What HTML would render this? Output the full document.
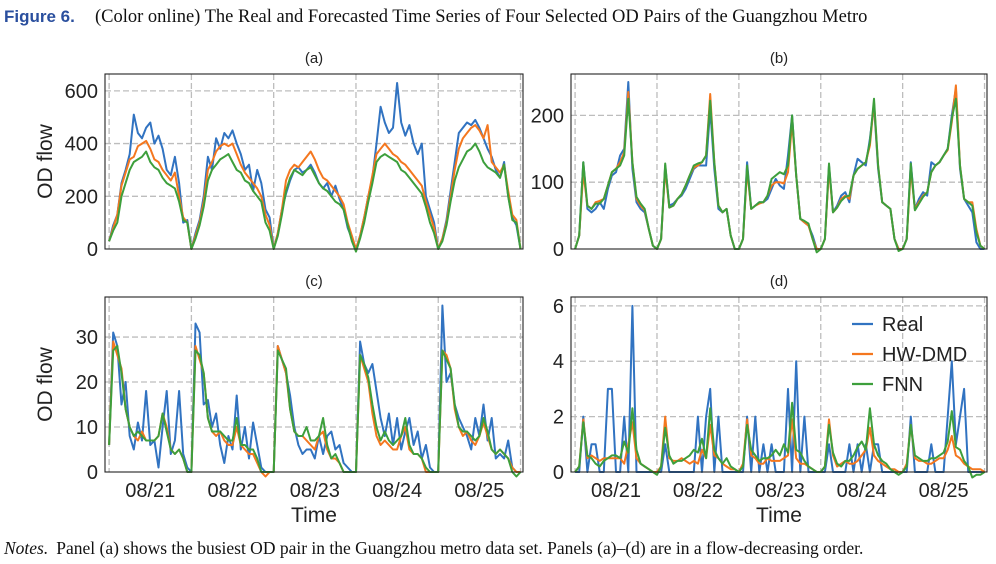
<!DOCTYPE html>
<html><head><meta charset="utf-8"><style>
body{margin:0;background:#fff;width:996px;height:564px;overflow:hidden}
svg{display:block}
</style></head><body>
<svg id="fig" width="996" height="564" viewBox="0 0 996 564" xmlns="http://www.w3.org/2000/svg">
<text x="4" y="22" font-family="Liberation Sans, sans-serif" font-weight="bold" font-size="17" fill="#2a4f9e">Figure 6.</text>
<text x="95" y="22" font-family="Liberation Serif, serif" font-size="18.5" fill="#111">(Color online) The Real and Forecasted Time Series of Four Selected OD Pairs of the Guangzhou Metro</text>
<text x="4" y="554" font-family="Liberation Serif, serif" font-size="17.5" fill="#111"><tspan font-style="italic">Notes.</tspan><tspan dx="8">Panel (a) shows the busiest OD pair in the Guangzhou metro data set. Panels (a)–(d) are in a flow-decreasing order.</tspan></text>
<g id="plots"></g>
</svg>
<script>
const dayLabels = ["08/21","08/22","08/23","08/24","08/25"];
const seriesNames = ["Real","HW-DMD","FNN"];
const ticksA = [0,200,400,600];
const ticksB = [0,100,200];
const ticksC = [0,10,20,30];
const ticksD = [0,2,4,6];
const realA = [30,90,130,250,300,360,510,440,420,460,480,400,430,380,300,280,350,250,100,110,
0,60,110,200,350,300,420,380,440,420,450,400,360,300,320,220,300,250,150,120,
0,60,150,210,260,300,310,290,300,320,290,250,230,250,200,240,190,150,80,40,
0,50,120,200,270,400,540,480,440,460,630,480,430,470,400,360,400,200,150,100,
0,40,110,220,330,440,460,480,470,490,460,420,380,350,300,270,330,200,120,90,0];
const hwA = [30,80,130,240,290,340,350,390,400,410,380,340,330,300,280,260,290,200,120,100,
0,50,100,180,300,330,370,390,400,390,400,360,320,290,270,250,230,200,130,90,
0,60,150,260,300,320,310,330,350,370,340,300,270,260,240,220,200,170,100,50,
0,50,120,200,280,360,380,400,380,360,350,330,320,300,280,260,240,180,130,80,
0,40,100,200,300,380,420,440,460,470,450,420,470,330,310,290,320,220,130,110,0];
const fnnA = [30,70,100,200,250,300,330,340,350,370,330,310,300,270,250,240,230,180,110,100,
0,40,90,160,260,300,320,340,350,360,330,300,290,260,250,220,200,180,100,70,
0,50,130,220,270,300,290,280,300,310,280,250,230,220,200,180,170,150,90,30,
-10,40,100,180,250,330,350,360,350,340,330,300,290,270,250,230,210,160,100,60,
0,30,90,180,260,310,340,370,380,400,370,330,310,300,290,270,320,200,110,100,0];
const realB = [0,20,130,60,55,60,70,60,90,110,115,140,150,250,120,70,60,55,30,5,
0,15,125,65,68,75,80,90,105,120,125,125,125,210,120,60,55,60,20,0,
0,15,130,60,65,70,70,75,90,105,95,90,140,200,110,45,40,35,20,0,
0,15,125,55,65,80,85,70,110,135,130,125,165,215,120,70,65,60,15,0,
0,15,130,60,75,85,80,130,125,130,140,150,200,240,120,75,65,55,10,0,0];
const hwB = [0,20,115,65,60,70,72,75,95,115,120,130,145,235,130,75,65,58,30,5,
0,15,120,62,65,75,82,95,110,122,125,130,140,232,130,65,55,60,20,0,
0,15,118,60,65,68,70,80,95,100,100,98,115,190,110,45,40,35,15,0,
0,15,120,55,62,75,80,75,110,120,125,130,155,220,125,70,65,60,15,0,
0,15,118,60,70,80,85,115,125,130,140,148,190,245,125,75,70,70,30,5,0];
const fnnB = [0,20,130,65,60,68,68,75,95,115,120,125,140,225,130,78,68,60,30,5,
0,15,128,62,65,75,82,95,110,125,128,130,140,222,130,65,55,60,20,0,
0,15,125,60,65,70,70,80,105,110,115,112,125,200,110,45,42,38,15,-5,
0,15,128,55,62,72,78,80,110,120,125,130,160,225,125,70,65,60,15,-3,
0,15,128,58,68,78,85,115,125,130,140,150,195,225,125,75,70,65,25,5,0];
const realC = [6,31,28,15,20,8,5,11,7,18,6,7,1,10,18,4,7,18,4,1,
0,33,31,15,16,10,13,6,2,8,5,17,5,10,3,11,6,1,0,0,
0,28,25,22,17,10,6,4,5,5,3,8,4,8,9,5,6,2,1,0,
0,29,24,22,24,18,12,8,13,6,12,5,9,12,6,9,3,6,1,0,
0,37,20,22,15,12,10,8,5,12,8,15,7,12,3,4,3,7,1,0,0];
const hwC = [6,29,26,23,14,10,8,7,9,7,7,7,8,13,10,5,4,5,3,0,
0,28,25,22,12,9,8,9,7,6,6,10,6,5,4,4,2,0,-1,0,
0,28,25,22,14,9,8,8,7,6,5,8,9,5,3,3,2,0,0,0,
0,26,23,20,13,8,6,7,6,5,5,8,10,5,4,4,3,0,0,0,
0,27,26,23,14,10,8,9,7,6,8,11,8,5,4,5,4,3,1,0,0];
const fnnC = [6,27,28,22,14,10,8,9,8,7,7,7,8,13,9,5,4,5,3,0,
0,27,26,22,12,9,9,9,8,7,7,12,6,6,5,5,3,0,0,0,
0,27,25,23,14,9,8,8,10,7,7,8,12,6,3,4,2,0,0,0,
0,26,24,21,15,10,7,9,7,6,7,8,12,6,4,4,3,1,0,0,
0,27,25,23,15,10,9,9,8,7,8,12,9,5,4,5,4,3,0,-1,0];
const realD = [0,0,2,0,1,1,0,0,3,3,0,0,2,0,6,0,0,0,0,0,
0,0,1,0,0,0,0,0,0,0,2,0,2,3,0,2,0,0,0,0,
0,0,2,0,2,0,1,0,1,0,0,0,3,0,4,0,2,0,0,0,
0,0,1,0,0,0,0,1,0,1,0,1,0,1,1,0,0,0,0,0,
0,0,2,0,0,0,0,1,0,0,0,2,4,1,2,3,0,0,0,0,0];
const hwD = [0,0.2,1.9,0.5,0.6,0.5,0.4,0.5,0.5,0.5,0.5,0.5,0.3,1.0,1.8,0.5,0.3,0.2,0.1,0,
0,0.2,2.0,0.5,0.4,0.4,0.5,0.4,0.3,0.4,0.3,0.8,0.5,1.7,0.6,0.5,0.3,0.2,0.1,0.1,
0,0.3,1.9,0.6,0.5,0.3,0.3,0.5,0.4,0.4,0.4,0.5,0.6,1.9,0.5,0.3,0.3,0.2,0.1,0,
0,0.2,1.9,0.6,0.2,0.3,0.4,0.3,0.3,0.4,0.6,0.8,1.6,0.6,0.4,0.3,0.2,0.1,0.1,0,
0,0.3,1.7,0.5,0.4,0.4,0.3,0.3,0.4,0.5,0.5,0.8,1.3,0.6,0.5,0.3,0.2,0.1,0.1,0.1,0];
const fnnD = [0,0.2,1.8,0.6,0.5,0.3,0.2,0.4,0.5,0.6,0.6,0.5,1.1,0.7,2.3,0.8,0.3,0.2,0.1,0,
-0.1,0.2,1.6,0.6,0.3,0.4,0.4,0.5,0.6,0.8,0.7,1.2,0.5,2.3,0.8,0.5,0.3,0.5,0.2,0.1,
0,0.2,1.7,0.8,0.6,0.4,0.5,0.5,0.6,0.8,0.6,1.0,0.7,2.5,0.8,0.7,0.4,0.2,0.1,0,
0,0.2,1.7,0.7,0.3,0.2,0.4,0.4,0.6,0.9,1.1,0.8,2.3,1.0,0.6,0.4,0.3,0.1,0,-0.1,
0,0.2,1.7,0.6,0.5,0.4,0.4,0.5,0.5,0.6,0.7,1.1,2.2,0.9,0.8,0.4,0.2,-0.2,-0.1,-0.1,0];

const NS = "http://www.w3.org/2000/svg";
const COLORS = ["#3173c1","#f4771f","#3d9f3c"];
const FONT = "Liberation Sans, DejaVu Sans, sans-serif";
const root = document.getElementById("plots");
function mk(tag, attrs, parent){
  const e = document.createElementNS(NS, tag);
  for (const k in attrs) e.setAttribute(k, attrs[k]);
  (parent||root).appendChild(e); return e;
}
const panels = [
  {id:"a", x0:105, x1:523, y0:74, y1:249, ymax:664, ticks:ticksA, data:[realA,hwA,fnnA], ylab:true, xlab:false, legend:false},
  {id:"b", x0:571, x1:987, y0:74, y1:249, ymax:262, ticks:ticksB, data:[realB,hwB,fnnB], ylab:false, xlab:false, legend:false},
  {id:"c", x0:105, x1:523, y0:297, y1:472, ymax:38.9, ticks:ticksC, data:[realC,hwC,fnnC], ylab:true, xlab:true, legend:false},
  {id:"d", x0:571, x1:987, y0:297, y1:472, ymax:6.32, ticks:ticksD, data:[realD,hwD,fnnD], ylab:false, xlab:true, legend:true}
];
panels.forEach(p=>{
  const g = mk("g",{});
  
  
  const tmin=-0.05, tmax=5.03;
  const sx = t => p.x0 + (t-tmin)/(tmax-tmin)*(p.x1-p.x0);
  const sy = v => p.y1 - v/p.ymax*(p.y1-p.y0);
  const title = mk("text",{x:(p.x0+p.x1)/2, y:p.y0-11, "text-anchor":"middle","font-family":FONT,"font-size":15,fill:"#222"},g);
  title.textContent="("+p.id+")";
  
  
  p.ticks.forEach(v=>{
    if (v>0){
      const l = mk("line",{x1:p.x0,x2:p.x1,y1:sy(v),y2:sy(v),stroke:"#bdbdbd","stroke-width":1.3,"stroke-dasharray":"6,3"},g);
      
      
    }
    const t = mk("text",{x:p.x0-7,y:sy(v)+7,"text-anchor":"end","font-family":FONT,"font-size":20,fill:"#222"},g);
    t.textContent=v;
    
    
  });
  for(let d=0; d<=5; d++){
    const l = mk("line",{x1:sx(d),x2:sx(d),y1:p.y0,y2:p.y1,stroke:"#bdbdbd","stroke-width":1.3,"stroke-dasharray":"6,3"},g);
    
    
  }
  if (p.xlab){
    dayLabels.forEach((s,i)=>{
      const t = mk("text",{x:sx(i+0.5),y:p.y1+25,"text-anchor":"middle","font-family":FONT,"font-size":20,fill:"#222"},g);
      t.textContent=s;
      
      
    });
    const xt = mk("text",{x:(p.x0+p.x1)/2,y:p.y1+50,"text-anchor":"middle","font-family":FONT,"font-size":21,fill:"#222"},g);
    xt.textContent="Time";
    
    
  }
  if (p.ylab){
    const cy=(p.y0+p.y1)/2;
    const yt = mk("text",{x:52,y:cy,"text-anchor":"middle","font-family":FONT,"font-size":21,fill:"#222",transform:"rotate(-90 52 "+cy+")"},g);
    yt.textContent="OD flow";
    
    
  }
  p.data.forEach((arr,si)=>{
    const pts = arr.map((v,i)=> sx(i/20).toFixed(1)+","+sy(v).toFixed(1)).join(" ");
    const pl = mk("polyline",{points:pts,fill:"none",stroke:COLORS[si],"stroke-width":2,"stroke-linejoin":"round"},g);
    
    
  });
  const box = mk("rect",{x:p.x0,y:p.y0,width:p.x1-p.x0,height:p.y1-p.y0,fill:"none",stroke:"#222","stroke-width":1.1},g);
  
  
  if (p.legend){
    seriesNames.forEach((n,i)=>{
      const y = 324 + i*30;
      const ll = mk("line",{x1:852,x2:873,y1:y,y2:y,stroke:COLORS[i],"stroke-width":2.2},g);
      
      
      const lt = mk("text",{x:882,y:y+7,"font-family":FONT,"font-size":20,fill:"#222"},g);
      lt.textContent=n;
      
      
    });
  }
});
</script>
</body></html>
